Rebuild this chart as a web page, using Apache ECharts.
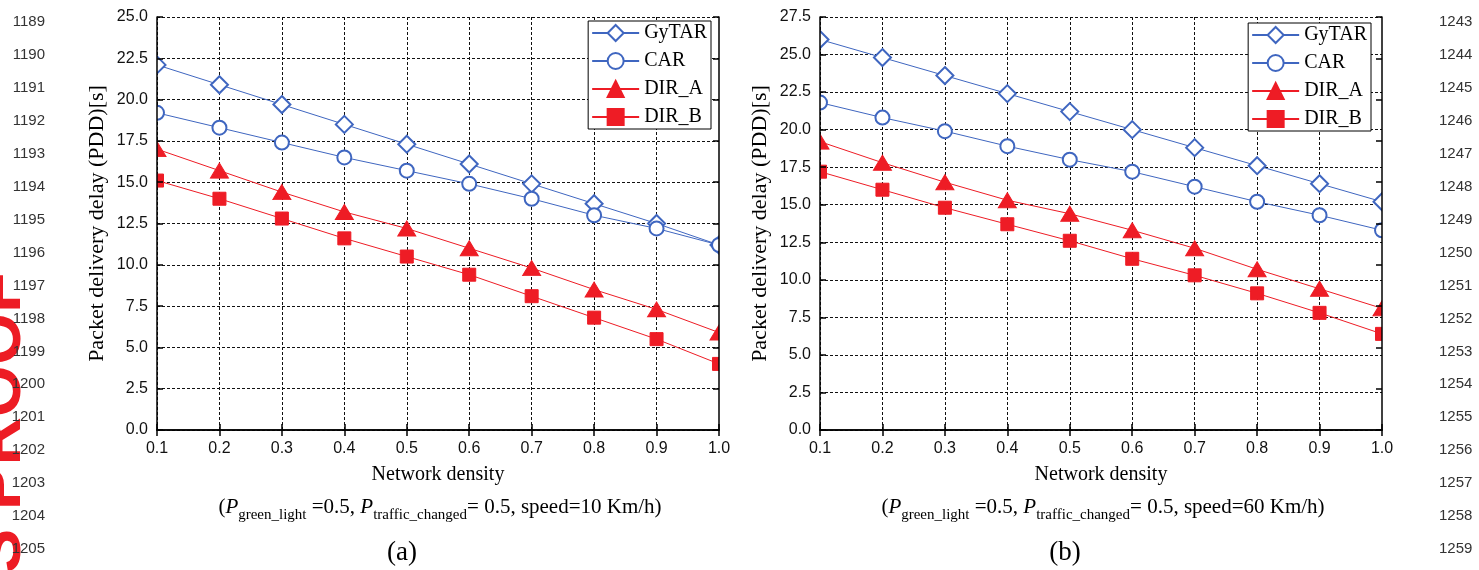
<!DOCTYPE html>
<html>
<head>
<meta charset="utf-8">
<script src="https://cdn.jsdelivr.net/npm/echarts@6/dist/echarts.min.js"></script>
<style>
html,body{margin:0;padding:0;background:#fff;}
#chart{width:1479px;height:570px;}
</style>
</head>
<body>
<div id="chart"></div>
<script>
// ---------- data ----------
const categories = ['0.1','0.2','0.3','0.4','0.5','0.6','0.7','0.8','0.9','1.0'];
const seriesNames = ['GyTAR','CAR','DIR_A','DIR_B'];
// chart (a): speed = 10 Km/h
const gytarA = [22.1, 20.9, 19.7, 18.5, 17.3, 16.1, 14.9, 13.7, 12.5, 11.2];
const carA   = [19.2, 18.3, 17.4, 16.5, 15.7, 14.9, 14.0, 13.0, 12.2, 11.2];
const dirAA  = [17.0, 15.7, 14.4, 13.2, 12.2, 11.0, 9.8, 8.5, 7.3, 5.9];
const dirBA  = [15.1, 14.0, 12.8, 11.6, 10.5, 9.4, 8.1, 6.8, 5.5, 4.0];
// chart (b): speed = 60 Km/h
const gytarB = [26.0, 24.8, 23.6, 22.4, 21.2, 20.0, 18.8, 17.6, 16.4, 15.2];
const carB   = [21.8, 20.8, 19.9, 18.9, 18.0, 17.2, 16.2, 15.2, 14.3, 13.3];
const dirAB  = [19.2, 17.8, 16.5, 15.3, 14.4, 13.3, 12.1, 10.7, 9.4, 8.1];
const dirBB  = [17.2, 16.0, 14.8, 13.7, 12.6, 11.4, 10.3, 9.1, 7.8, 6.4];
// axis ranges
const yMaxA = 25, yMaxB = 27.5, rightMaxB = 25, yStep = 2.5;
// texts
const yName = 'Packet delivery delay (PDD)[s]';
const xName = 'Network density';
const subA = '({i|P}{sub|green_light} =0.5, {i|P}{sub|traffic_changed}= 0.5, speed=10 Km/h)';
const subB = '({i|P}{sub|green_light} =0.5, {i|P}{sub|traffic_changed}= 0.5, speed=60 Km/h)';
const leftLineNumbers  = ['1189','1190','1191','1192','1193','1194','1195','1196','1197','1198','1199','1200','1201','1202','1203','1204','1205'];
const rightLineNumbers = ['1243','1244','1245','1246','1247','1248','1249','1250','1251','1252','1253','1254','1255','1256','1257','1258','1259'];
const watermark = "AUTHOR'S PROOF";

// ---------- layout / style ----------
const W = 1479;
const grids = [
  {left: 157, top: 17, width: 562, height: 413},
  {left: 820, top: 17, width: 562, height: 413}
];
const BLUE = '#3f66c0', RED = '#ee1c25';
const SANS = 'Liberation Sans', SERIF = 'Liberation Serif';
const frameLine = {show: true, lineStyle: {color: '#000', width: 1.5}};
const innerTick = {show: true, inside: true, length: 6, lineStyle: {color: '#000', width: 1.5}};
const dashSplit = {show: true, lineStyle: {color: '#111', width: 1, type: [3, 2]}};

function xAxes(gi) {
  return [
    {gridIndex: gi, type: 'category', data: categories, boundaryGap: false, position: 'bottom', z: 3,
     axisLine: frameLine, axisTick: innerTick,
     axisLabel: {fontFamily: SANS, fontSize: 16, color: '#111', margin: 11},
     splitLine: {show: false},
     name: xName, nameLocation: 'middle', nameGap: 35,
     nameTextStyle: {fontFamily: SERIF, fontSize: 20, color: '#000'}},
    {gridIndex: gi, type: 'category', data: categories, boundaryGap: false, position: 'top', z: 3,
     axisLine: frameLine, axisTick: innerTick, axisLabel: {show: false}, splitLine: {show: false}},
    {gridIndex: gi, type: 'category', data: categories, boundaryGap: false, position: 'bottom', z: 0,
     axisLine: {show: false}, axisTick: {show: false}, axisLabel: {show: false}, splitLine: dashSplit}
  ];
}
function yAxes(gi, yMax, rightMax) {
  return [
    {gridIndex: gi, type: 'value', min: 0, max: yMax, interval: yStep, position: 'left', z: 3,
     axisLine: frameLine, axisTick: innerTick,
     axisLabel: {fontFamily: SANS, fontSize: 16, color: '#111', margin: 9, formatter: v => v.toFixed(1)},
     splitLine: {show: false},
     name: yName, nameLocation: 'middle', nameGap: 49,
     nameTextStyle: {fontFamily: SERIF, fontSize: 22, color: '#000'}},
    {gridIndex: gi, type: 'value', min: 0, max: rightMax, interval: yStep, position: 'right', z: 3,
     axisLine: frameLine, axisTick: innerTick, axisLabel: {show: false}, splitLine: {show: false}},
    {gridIndex: gi, type: 'value', min: 0, max: yMax, interval: yStep, position: 'left', z: 0,
     axisLine: {show: false}, axisTick: {show: false}, axisLabel: {show: false}, splitLine: dashSplit}
  ];
}
const styles = {
  'GyTAR': {symbol: 'emptyDiamond', symbolSize: 17, color: BLUE},
  'CAR':   {symbol: 'emptyCircle', symbolSize: 14, color: BLUE},
  'DIR_A': {symbol: 'triangle', symbolSize: [18, 15], color: RED},
  'DIR_B': {symbol: 'rect', symbolSize: 13, color: RED}
};
function makeSeries(name, data, gi) {
  const s = styles[name];
  return {
    name, type: 'line', data, xAxisIndex: gi * 3, yAxisIndex: gi * 3,
    symbol: s.symbol, symbolSize: s.symbolSize, showAllSymbol: true, z: 2,
    lineStyle: {color: s.color, width: 1},
    itemStyle: {color: s.color, borderColor: s.color, borderWidth: 1},
    emphasis: {disabled: true}
  };
}
function legend(gi, rightPx, topPx) {
  return {
    data: seriesNames, orient: 'vertical', right: rightPx, top: topPx,
    itemWidth: 47, itemHeight: 20, itemGap: 8, padding: [2, 4, 2, 3],
    backgroundColor: '#fff', borderColor: '#000', borderWidth: 1,
    textStyle: {fontFamily: SERIF, fontSize: 20, color: '#000'},
    selectedMode: false
  };
}

// graphics
const graphics = [];
// white masks so edge markers appear clipped at the frame
grids.forEach(g => {
  graphics.push({type: 'rect', z: 2.6, silent: true,
    shape: {x: g.left - 13, y: g.top, width: 13, height: g.height}, style: {fill: '#fff'}});
  graphics.push({type: 'rect', z: 2.6, silent: true,
    shape: {x: g.left + g.width, y: g.top, width: 13, height: g.height}, style: {fill: '#fff'}});
});
const rich = {
  i: {fontFamily: SERIF, fontSize: 21, fontStyle: 'italic', lineHeight: 32, fill: '#000'},
  sub: {fontFamily: SERIF, fontSize: 15, lineHeight: 15, verticalAlign: 'bottom', fill: '#000'}
};
[[subA, '(a)'], [subB, '(b)']].forEach((t, gi) => {
  const g = grids[gi];
  const cx = g.left + g.width / 2;
  graphics.push({type: 'text', x: cx + 2, y: 507, z: 5, style: {
    text: t[0], rich, fontFamily: SERIF, fontSize: 21, lineHeight: 32, fill: '#000',
    align: 'center', verticalAlign: 'middle'}});
  graphics.push({type: 'text', x: cx - 36, y: 553, z: 5, style: {
    text: t[1], fontFamily: SERIF, fontSize: 27, fill: '#000', align: 'center', verticalAlign: 'middle'}});
});
// watermark
graphics.push({type: 'text', x: 35, y: 272, rotation: Math.PI / 2, z: 1, style: {
  text: watermark, fontFamily: SANS, fontWeight: 'bold', fontSize: 67, fill: '#ed1c24',
  align: 'right', verticalAlign: 'bottom'}});
// line numbers
leftLineNumbers.forEach((t, i) => {
  graphics.push({type: 'text', x: 45, y: 22 + i * 32.94, z: 6, style: {
    text: t, fontFamily: SANS, fontSize: 15, fill: '#333', align: 'right', verticalAlign: 'middle'}});
});
rightLineNumbers.forEach((t, i) => {
  graphics.push({type: 'text', x: 1439, y: 22 + i * 32.94, z: 6, style: {
    text: t, fontFamily: SANS, fontSize: 15, fill: '#333', align: 'left', verticalAlign: 'middle'}});
});

const option = {
  backgroundColor: '#fff',
  animation: false,
  grid: grids.map(g => Object.assign({containLabel: false}, g)),
  xAxis: xAxes(0).concat(xAxes(1)),
  yAxis: yAxes(0, yMaxA, yMaxA).concat(yAxes(1, yMaxB, rightMaxB)),
  legend: [legend(0, W - 711, 21), legend(1, W - 1371, 23)],
  series: [
    makeSeries('GyTAR', gytarA, 0), makeSeries('CAR', carA, 0),
    makeSeries('DIR_A', dirAA, 0), makeSeries('DIR_B', dirBA, 0),
    makeSeries('GyTAR', gytarB, 1), makeSeries('CAR', carB, 1),
    makeSeries('DIR_A', dirAB, 1), makeSeries('DIR_B', dirBB, 1)
  ],
  graphic: {elements: graphics}
};
const chart = echarts.init(document.getElementById('chart'), null, {renderer: 'canvas'});
chart.setOption(option);
</script>
</body>
</html>
